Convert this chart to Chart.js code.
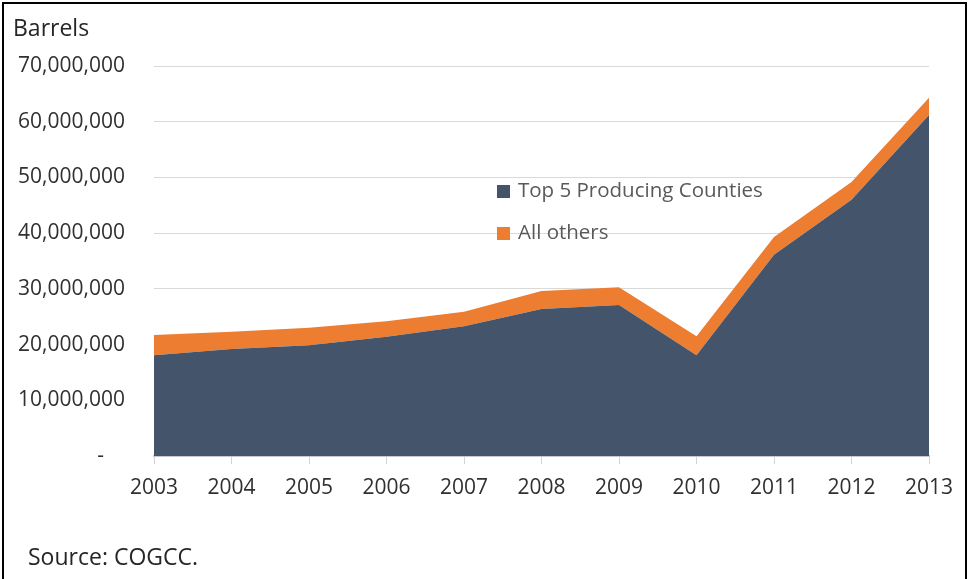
<!DOCTYPE html>
<html>
<head>
<meta charset="utf-8">
<script src="https://cdn.jsdelivr.net/npm/chart.js@4.4.1/dist/chart.umd.min.js"></script>
<style>
  html, body { margin: 0; padding: 0; background: #fff; }
  #wrap { position: relative; width: 969px; height: 579px; overflow: hidden; font-family: "Open Sans", "Noto Sans", sans-serif; }
  #frame { position: absolute; left: 2px; top: 2px; width: 965px; height: 580px; border: 2px solid #000; box-sizing: border-box; pointer-events: none; }
  canvas { position: absolute; left: 0; top: 0; }
  .txt { position: absolute; white-space: nowrap; color: #262626; line-height: normal; }
  #ytitle { left: 13px; top: 11px; font-size: 23px; }
  #source { left: 28px; top: 540px; font-size: 23px; }
  .leg { position: absolute; left: 497px; font-size: 20.5px; color: #595959; white-space: nowrap; line-height: normal; }
  .leg i { display: inline-block; width: 13px; height: 13px; margin-right: 8px; vertical-align: -1px; }
</style>
</head>
<body>
<div id="wrap">
  <canvas id="c" width="969" height="579"></canvas>
  <div id="ytitle" class="txt">Barrels</div>
  <div class="leg" style="top:175px"><i style="background:#44546A"></i>Top 5 Producing Counties</div>
  <div class="leg" style="top:217px"><i style="background:#ED7D31"></i>All others</div>
  <div id="source" class="txt">Source: COGCC.</div>
  <div id="frame"></div>
</div>
<script>
const years = ["2003","2004","2005","2006","2007","2008","2009","2010","2011","2012","2013"];
const top5Counties = [18100000, 19200000, 19900000, 21400000, 23300000, 26400000, 27100000, 18100000, 36100000, 46000000, 61200000];
const allOthers   = [3600000, 3100000, 3100000, 2800000, 2600000, 3200000, 3200000, 3400000, 3200000, 3200000, 3100000];
const seriesNames = ["Top 5 Producing Counties", "All others"];
const yTicksMax = 70000000;
const yTickStep = 10000000;

new Chart(document.getElementById('c'), {
  type: 'line',
  data: {
    labels: years,
    datasets: [
      { label: seriesNames[0], data: top5Counties, backgroundColor: '#44546A', borderColor: '#44546A', borderWidth: 0, fill: 'origin', pointRadius: 0, tension: 0 },
      { label: seriesNames[1], data: allOthers, backgroundColor: '#ED7D31', borderColor: '#ED7D31', borderWidth: 0, fill: '-1', pointRadius: 0, tension: 0 }
    ]
  },
  options: {
    responsive: false,
    animation: false,
    devicePixelRatio: 1,
    layout: { padding: { top: 66, right: 40, left: 0, bottom: 0 } },
    plugins: { legend: { display: false }, tooltip: { enabled: false } },
    scales: {
      x: {
        offset: false,
        grid: { drawOnChartArea: false, drawTicks: true, tickLength: 8, color: '#d0d4da', lineWidth: 1 },
        border: { display: true, color: '#c5cad2', width: 2 },
        ticks: { color: '#303030', font: { family: '"Open Sans", sans-serif', size: 21 }, padding: 11, maxRotation: 0, autoSkip: false },
        afterFit: (s) => { s.height = 123; }
      },
      y: {
        stacked: true,
        min: 0, max: yTicksMax,
        grid: { drawTicks: false, color: '#d9d9d9', lineWidth: 1 },
        border: { display: false },
        ticks: {
          stepSize: yTickStep, padding: 29, color: '#303030',
          font: { family: '"Open Sans", sans-serif', size: 21 },
          callback: (v) => v === 0 ? '-\u2002\u2002' : v.toLocaleString('en-US')
        },
        afterFit: (s) => { s.width = 154; }
      }
    }
  }
});
</script>
</body>
</html>
